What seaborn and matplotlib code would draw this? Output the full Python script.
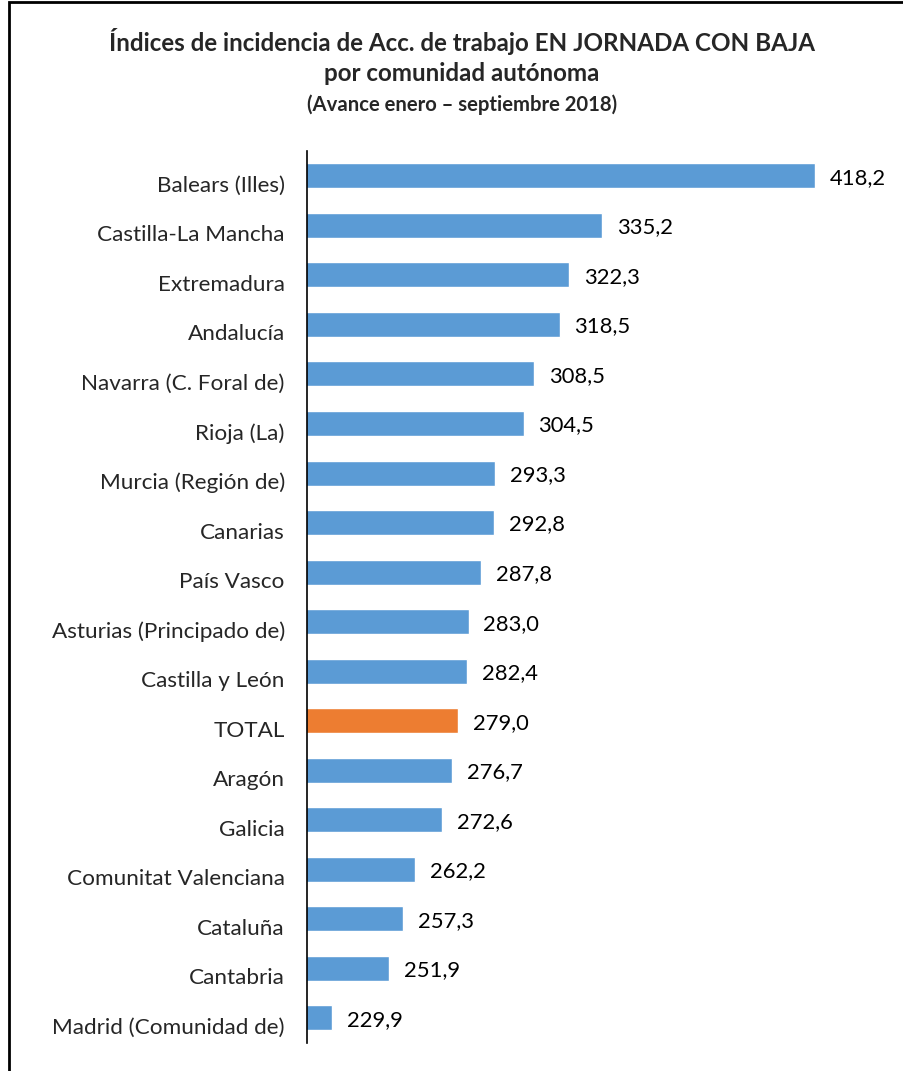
import matplotlib
matplotlib.use("Agg")
import matplotlib.pyplot as plt
import matplotlib.transforms as mtransforms
import seaborn as sns
import pandas as pd
from matplotlib.patches import Rectangle

comunidades = [
    "Balears (Illes)", "Castilla-La Mancha", "Extremadura", "Andalucía",
    "Navarra (C. Foral de)", "Rioja (La)", "Murcia (Región de)", "Canarias",
    "País Vasco", "Asturias (Principado de)", "Castilla y León", "TOTAL",
    "Aragón", "Galicia", "Comunitat Valenciana", "Cataluña", "Cantabria",
    "Madrid (Comunidad de)",
]
indices = [418.2, 335.2, 322.3, 318.5, 308.5, 304.5, 293.3, 292.8, 287.8,
           283.0, 282.4, 279.0, 276.7, 272.6, 262.2, 257.3, 251.9, 229.9]

BLUE = "#5B9BD5"
ORANGE = "#ED7D31"
FONT = "Lato"

df = pd.DataFrame({"comunidad": comunidades, "indice": indices})
palette = {c: (ORANGE if c == "TOTAL" else BLUE) for c in comunidades}

sns.set_style("white")
plt.rcParams["font.family"] = [FONT, "DejaVu Sans"]

fig = plt.figure(figsize=(9.04, 10.71), dpi=100)
ax = fig.add_axes([0.3396, 0.0265, 0.624, 0.8324])

sns.barplot(data=df, y="comunidad", x="indice", hue="comunidad",
            palette=palette, order=comunidades, width=0.505,
            legend=False, ax=ax, saturation=1)

ax.set_xlim(220, 440)
ax.set_ylim(17.5, -0.5)
ax.set_xlabel("")
ax.set_ylabel("")
ax.set_xticks([])
ax.tick_params(axis="y", length=0, pad=16, labelsize=16.2)
for sp in ["top", "right", "bottom"]:
    ax.spines[sp].set_visible(False)
ax.spines["left"].set_color("black")
ax.spines["left"].set_linewidth(1.2)

# Excel-style: category labels sit a bit below the bar centre
shift_down = mtransforms.ScaledTranslation(0, -8 / 100, fig.dpi_scale_trans)
for lab in ax.get_yticklabels():
    lab.set_transform(lab.get_transform() + shift_down)

val_shift = ax.transData + mtransforms.ScaledTranslation(0, -2 / 100, fig.dpi_scale_trans)
for i, v in enumerate(indices):
    ax.text(v + 5.8, i, f"{v:.1f}".replace(".", ","), va="center",
            ha="left", fontsize=15.8, color="black", transform=val_shift)

fig.text(0.511, 0.961, "Índices de incidencia de Acc. de trabajo EN JORNADA CON BAJA",
         ha="center", va="center", fontsize=17.4, fontweight="bold")
fig.text(0.511, 0.931, "por comunidad autónoma",
         ha="center", va="center", fontsize=17.4, fontweight="bold")
fig.text(0.511, 0.902, "(Avance enero – septiembre 2018)",
         ha="center", va="center", fontsize=14.6, fontweight="bold")

# chart area border
fig.patches.append(Rectangle((9 / 904, -0.05), 1.0, 1.0 - 2 / 1071 + 0.05,
                             transform=fig.transFigure, fill=False,
                             edgecolor="black", linewidth=2))

fig.savefig("out.png", dpi=100)
